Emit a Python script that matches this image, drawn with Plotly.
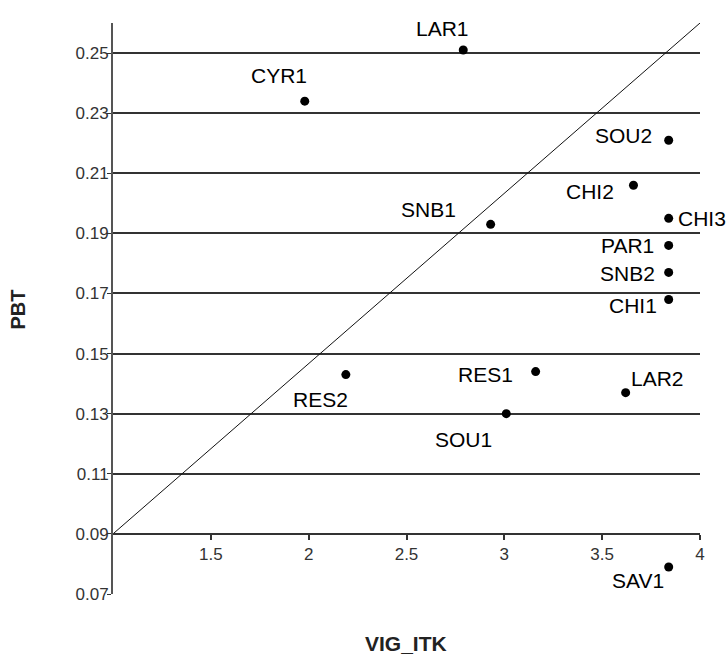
import plotly.graph_objects as go

# data
names = ["LAR1", "CYR1", "SOU2", "CHI2", "CHI3", "SNB1", "PAR1", "SNB2", "CHI1",
         "RES2", "RES1", "LAR2", "SOU1", "SAV1"]
vig_itk = [2.79, 1.98, 3.84, 3.66, 3.84, 2.93, 3.84, 3.84, 3.84,
           2.19, 3.16, 3.62, 3.01, 3.84]
pbt = [0.251, 0.234, 0.221, 0.206, 0.195, 0.193, 0.186, 0.177, 0.168,
       0.143, 0.144, 0.137, 0.130, 0.079]

diag_x = [1, 4]
diag_y = [0.09, 0.26]

x_ticks = [1.5, 2, 2.5, 3, 3.5, 4]
x_tick_text = ["1.5", "2", "2.5", "3", "3.5", "4"]
y_ticks = [0.07, 0.09, 0.11, 0.13, 0.15, 0.17, 0.19, 0.21, 0.23, 0.25]
y_tick_text = ["0.07", "0.09", "0.11", "0.13", "0.15", "0.17", "0.19", "0.21", "0.23", "0.25"]

x_range = [1, 4]
y_range = [0.07, 0.26]
x_cross = 0.09

# label offsets in pixels (style): (dx, dy) of label centre from the dot, screen px (down positive)
label_offsets = [(-21, -22), (-26, -26), (-45, -5), (-43, 6), (33, 0), (-62, -15),
                 (-41, 0), (-41, 1), (-36, 6), (-25, 25), (-50, 3), (32, -14),
                 (-43, 26), (-31, 14)]

FONT = "Liberation Sans, Arial, sans-serif"

fig = go.Figure()
fig.add_trace(go.Scatter(x=diag_x, y=diag_y, mode="lines",
                         line=dict(color="#111", width=1), hoverinfo="skip",
                         showlegend=False))
fig.add_trace(go.Scatter(x=vig_itk, y=pbt, mode="markers",
                         marker=dict(color="#000", size=9),
                         showlegend=False, cliponaxis=False))

annotations = []
for nm, xv, yv, (dx, dy) in zip(names, vig_itk, pbt, label_offsets):
    annotations.append(dict(text=nm, x=xv, y=yv, xref="x", yref="y",
                            xshift=dx, yshift=-dy, showarrow=False,
                            xanchor="center", yanchor="middle",
                            font=dict(family=FONT, size=21, color="#000")))

annotations += [
    dict(text="<b>VIG_ITK</b>", xref="paper", yref="paper", x=0.4985, y=-0.0875,
         xanchor="center", yanchor="middle", showarrow=False,
         font=dict(family=FONT, size=21, color="#222")),
    dict(text="<b>PBT</b>", xref="paper", yref="paper", x=-0.161, y=0.499,
         xanchor="center", yanchor="middle", textangle=-90, showarrow=False,
         font=dict(family=FONT, size=20, color="#222")),
]

fig.update_layout(
    width=726, height=657,
    margin=dict(l=113, r=26, t=23, b=63),
    paper_bgcolor="white", plot_bgcolor="white",
    font=dict(family=FONT, color="#222"),
    xaxis=dict(range=x_range, tickvals=x_ticks, ticktext=x_tick_text,
               anchor="free",
               position=(x_cross - y_range[0]) / (y_range[1] - y_range[0]),
               showgrid=False, zeroline=False, showline=True,
               linecolor="#333", linewidth=2, ticks="outside", ticklen=5,
               tickcolor="#333", tickwidth=1.5,
               tickfont=dict(family=FONT, size=17, color="#333")),
    yaxis=dict(range=y_range, tickvals=y_ticks, ticktext=y_tick_text,
               showgrid=True, gridcolor="#333", gridwidth=1.5, zeroline=False,
               showline=True, linecolor="#555", linewidth=2,
               ticks="outside", ticklen=4, tickcolor="#333", tickwidth=1,
               ticklabelstandoff=-5,
               tickfont=dict(family=FONT, size=17, color="#333")),
    annotations=annotations,
)

fig.write_html("out.html", config={"displayModeBar": False},
               post_script="document.body.style.margin='0';")
